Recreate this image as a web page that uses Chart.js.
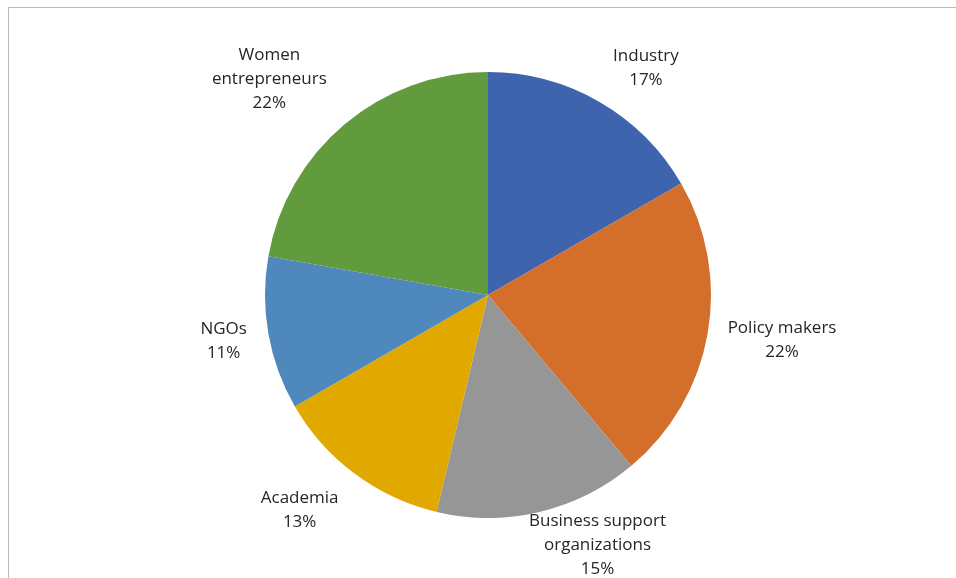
<!DOCTYPE html>
<html>
<head>
<meta charset="utf-8">
<script src="https://cdn.jsdelivr.net/npm/chart.js@4"></script>
<style>
    html, body { margin: 0; padding: 0; background: #fff; overflow: hidden; }
    #wrap { position: relative; width: 956px; height: 578px; }
    #frame { position: absolute; left: 8px; top: 7px; width: 960px; height: 600px;
             border-left: 1px solid #b9b9b9; border-top: 1px solid #b9b9b9; }
    canvas { position: absolute; left: 0; top: 0; }
</style>
</head>
<body>
<div id="wrap">
    <div id="frame"></div>
    <canvas id="graficoStakeholders" width="956" height="578"></canvas>
</div>
<script>
const categorias = ['Industry', 'Policy makers', 'Business support organizations', 'Academia', 'NGOs', 'Women entrepreneurs'];
const rotulos = [['Industry'], ['Policy makers'], ['Business support', 'organizations'], ['Academia'], ['NGOs'], ['Women', 'entrepreneurs']];
const respostas = [9, 12, 8, 7, 6, 12];
const cores = ['#3D64AD', '#D36E2B', '#969696', '#E1A800', '#4F88BD', '#629A3E'];

const total = respostas.reduce((a, b) => a + b, 0);

// Rotulos fora das fatias; "ajustes" empurra cada caixa de texto um pouco (px)
const rotulosExternos = {
    id: 'rotulosExternos',
    afterDatasetsDraw(chart, args, opts) {
        const ctx = chart.ctx;
        const meta = chart.getDatasetMeta(0);
        const alturaLinha = 24;
        ctx.save();
        ctx.font = '17px "Open Sans"';
        ctx.fillStyle = '#262626';
        ctx.textAlign = 'center';
        ctx.textBaseline = 'middle';
        meta.data.forEach((arco, i) => {
            const pct = Math.round(respostas[i] / total * 100);
            const linhas = rotulos[i].concat([pct + '%']);
            const larg = Math.max(...linhas.map(l => ctx.measureText(l).width));
            const alt = linhas.length * alturaLinha;
            const meio = (arco.startAngle + arco.endAngle) / 2;
            const dx = Math.cos(meio), dy = Math.sin(meio);
            const r = arco.outerRadius + 10;
            const aj = opts.ajustes[i] || [0, 0];
            const cx = arco.x + dx * r + dx * larg / 2 + aj[0];
            const cy = arco.y + dy * r + dy * alt / 2 + aj[1];
            linhas.forEach((l, j) => {
                ctx.fillText(l, cx, cy - alt / 2 + alturaLinha / 2 + j * alturaLinha);
            });
        });
        ctx.restore();
    }
};

const ctxStake = document.getElementById('graficoStakeholders').getContext('2d');
const graficoStakeholders = new Chart(ctxStake, {
    type: 'pie',
    data: {
        labels: categorias,
        datasets: [{
            data: respostas,
            backgroundColor: cores,
            borderWidth: 0
        }]
    },
    options: {
        responsive: false,
        animation: false,
        layout: {
            padding: { left: 20, right: 0, top: 72, bottom: 60 }
        },
        plugins: {
            legend: { display: false },
            tooltip: { enabled: false },
            rotulosExternos: {
                ajustes: [[25, -4], [11, 1], [40, -12], [-26, 9], [-12, 2], [-32, -10]]
            }
        }
    },
    plugins: [rotulosExternos]
});
</script>
</body>
</html>
